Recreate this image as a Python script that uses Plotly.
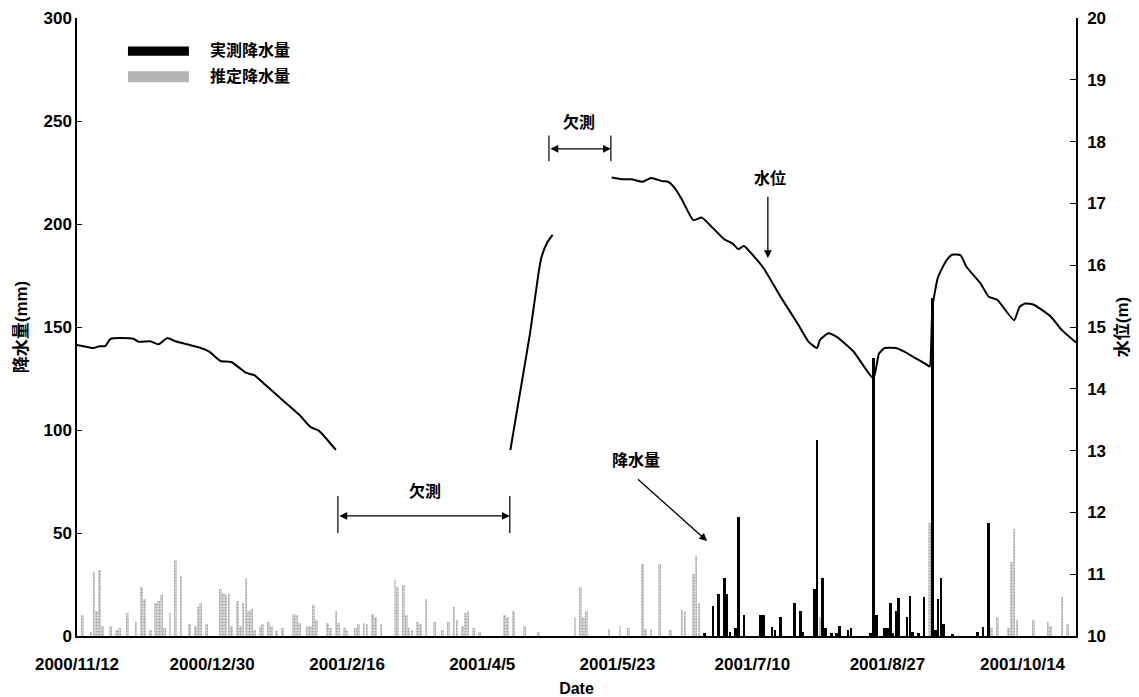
import plotly.graph_objects as go

# ---------------- data ----------------
est_dates = [
    "2000-11-14", "2000-11-17", "2000-11-18", "2000-11-19", "2000-11-20", "2000-11-21",
    "2000-11-24", "2000-11-26", "2000-11-27", "2000-11-30", "2000-12-03", "2000-12-05",
    "2000-12-06", "2000-12-08", "2000-12-10", "2000-12-11", "2000-12-12", "2000-12-13",
    "2000-12-15", "2000-12-17", "2000-12-19", "2000-12-22", "2000-12-24", "2000-12-25",
    "2000-12-26", "2000-12-28", "2001-01-02", "2001-01-03", "2001-01-04", "2001-01-05",
    "2001-01-06", "2001-01-08", "2001-01-09", "2001-01-10", "2001-01-11", "2001-01-12",
    "2001-01-13", "2001-01-14", "2001-01-16", "2001-01-17", "2001-01-19", "2001-01-20",
    "2001-01-22", "2001-01-24", "2001-01-28", "2001-01-29", "2001-01-30", "2001-02-02",
    "2001-02-03", "2001-02-04", "2001-02-05", "2001-02-09", "2001-02-10", "2001-02-12",
    "2001-02-13", "2001-02-15", "2001-02-16", "2001-02-19", "2001-02-20", "2001-02-22",
    "2001-02-23", "2001-02-25", "2001-02-26", "2001-02-28", "2001-03-05", "2001-03-06",
    "2001-03-08", "2001-03-09", "2001-03-10", "2001-03-11", "2001-03-13", "2001-03-14",
    "2001-03-16", "2001-03-19", "2001-03-22", "2001-03-24", "2001-03-26", "2001-03-27",
    "2001-03-29", "2001-03-30", "2001-03-31", "2001-04-02", "2001-04-04", "2001-04-13",
    "2001-04-14", "2001-04-16", "2001-04-20", "2001-04-25", "2001-05-08", "2001-05-10",
    "2001-05-11", "2001-05-12", "2001-05-20", "2001-05-24", "2001-05-27", "2001-06-01",
    "2001-06-02", "2001-06-04", "2001-06-07", "2001-06-11", "2001-06-15", "2001-06-16",
    "2001-06-19", "2001-06-20", "2001-06-21", "2001-08-03", "2001-09-11", "2001-10-03",
    "2001-10-05", "2001-10-09", "2001-10-10", "2001-10-11", "2001-10-12", "2001-10-18",
    "2001-10-23", "2001-10-24", "2001-10-28", "2001-10-30",
]
est_rain = [
    10, 2, 31, 12, 32, 5,
    5, 3, 4, 11, 7, 24,
    18, 3, 16, 17, 20, 4,
    11, 37, 29, 6, 5, 14,
    16, 6, 23, 21, 20, 21,
    5, 17, 5, 16, 28, 12,
    13, 3, 5, 6, 7, 5,
    2.5, 4, 10.5, 10, 6.5, 5,
    5, 15, 8, 6.5, 4, 12,
    6.5, 4, 3, 4, 6, 6.5,
    6, 10.5, 9, 6, 27, 24,
    25, 10, 4, 3, 7, 6,
    18, 7, 3, 7, 14, 8,
    5, 11, 12, 4, 2, 10,
    9, 12, 5, 2, 9, 24,
    9, 12, 3.5, 5, 4, 35,
    3.5, 3.5, 35, 2.7, 12.5, 12,
    30, 39, 16, 9, 55, 4,
    9, 4, 36, 52, 8, 8,
    7, 5, 19, 6,
]

obs_dates = [
    "2001-06-23", "2001-06-26", "2001-06-28", "2001-06-30", "2001-07-01", "2001-07-02",
    "2001-07-04", "2001-07-05", "2001-07-07", "2001-07-13", "2001-07-14", "2001-07-17",
    "2001-07-18", "2001-07-20", "2001-07-25", "2001-07-27", "2001-07-28", "2001-08-01",
    "2001-08-02", "2001-08-04", "2001-08-05", "2001-08-07", "2001-08-09", "2001-08-10",
    "2001-08-13", "2001-08-14", "2001-08-21", "2001-08-22", "2001-08-23", "2001-08-26",
    "2001-08-27", "2001-08-28", "2001-08-29", "2001-08-30", "2001-08-31", "2001-09-03",
    "2001-09-04", "2001-09-05", "2001-09-07", "2001-09-09", "2001-09-12", "2001-09-13",
    "2001-09-14", "2001-09-15", "2001-09-16", "2001-09-19", "2001-09-28", "2001-09-30",
    "2001-10-02",
]
obs_rain = [
    1.3, 14.5, 20.3, 28, 20.3, 2,
    4, 58, 10.3, 10.2, 10.2, 4.5,
    3, 9, 16, 12, 2, 22.7,
    95, 28, 4, 1.3, 1.3, 5,
    3, 4, 1.3, 135, 10, 4,
    4, 16, 1.3, 12, 18.3, 9,
    19.4, 2, 1.3, 19, 164, 3,
    18, 28, 6, 1, 2, 4.3,
    55,
]

level_dates = [
    "2000-11-12", "2000-11-18", "2000-11-20", "2000-11-22", "2000-11-24", "2000-12-02",
    "2000-12-04", "2000-12-08", "2000-12-11", "2000-12-14", "2000-12-17", "2000-12-21",
    "2000-12-26", "2000-12-29", "2001-01-02", "2001-01-06", "2001-01-11", "2001-01-14",
    "2001-01-18", "2001-01-24", "2001-01-30", "2001-02-03", "2001-02-06", "2001-02-12",
    "2001-02-13",
    "2001-04-15", "2001-04-18", "2001-04-22", "2001-04-25", "2001-04-26",
    "2001-04-28", "2001-04-30",
    "2001-05-01",
    "2001-05-21", "2001-05-25", "2001-05-28", "2001-06-01", "2001-06-04", "2001-06-08",
    "2001-06-10", "2001-06-12", "2001-06-15", "2001-06-19", "2001-06-22", "2001-06-26",
    "2001-06-30", "2001-07-03", "2001-07-05", "2001-07-07", "2001-07-10", "2001-07-14",
    "2001-07-20", "2001-07-26", "2001-07-30", "2001-08-02", "2001-08-03", "2001-08-06",
    "2001-08-09", "2001-08-15", "2001-08-22", "2001-08-24", "2001-08-26", "2001-08-30",
    "2001-09-02", "2001-09-05", "2001-09-10", "2001-09-11", "2001-09-12", "2001-09-14",
    "2001-09-17", "2001-09-19", "2001-09-22", "2001-09-24", "2001-09-29", "2001-10-02",
    "2001-10-05", "2001-10-11", "2001-10-13", "2001-10-15", "2001-10-18", "2001-10-24",
    "2001-10-28", "2001-11-02",
]
water_level = [
    14.71, 14.66, 14.69, 14.69, 14.81, 14.81,
    14.76, 14.77, 14.72, 14.82, 14.77, 14.72,
    14.66, 14.60, 14.45, 14.43, 14.26, 14.22,
    14.06, 13.82, 13.58, 13.38, 13.32, 13.01,
    None,
    13.01, 13.82, 14.90, 15.87, 16.12,
    16.36, 16.49,
    None,
    17.42, 17.39, 17.39, 17.35, 17.41, 17.36,
    17.35, 17.27, 17.06, 16.73, 16.77, 16.60,
    16.42, 16.35, 16.26, 16.31, 16.17, 15.95,
    15.49, 15.06, 14.76, 14.66, 14.79, 14.90,
    14.84, 14.60, 14.17, 14.57, 14.66, 14.66,
    14.60, 14.52, 14.39, 14.36, 15.33, 15.81,
    16.08, 16.17, 16.16, 15.98, 15.71, 15.49,
    15.44, 15.11, 15.33, 15.38, 15.36, 15.17,
    14.95, 14.75,
]

tick_dates = ["2000-11-12", "2000-12-30", "2001-02-16", "2001-04-05",
              "2001-05-23", "2001-07-10", "2001-08-27", "2001-10-14"]
tick_labels = ["2000/11/12", "2000/12/30", "2001/2/16", "2001/4/5",
               "2001/5/23", "2001/7/10", "2001/8/27", "2001/10/14"]

series_names = ["実測降水量", "推定降水量", "水位"]

FONT = "Liberation Sans, Arial, Noto Sans CJK JP"
DAY_MS = 86400000

fig = go.Figure()

fig.add_trace(go.Bar(
    x=est_dates, y=est_rain, name=series_names[1], width=DAY_MS * 0.95,
    marker=dict(color="#bdbdbd", line=dict(width=0),
                pattern=dict(shape=".", fgcolor="#6e6e6e", bgcolor="#d9d9d9",
                             size=3, solidity=0.35)),
    showlegend=False, yaxis="y",
))
fig.add_trace(go.Bar(
    x=obs_dates, y=obs_rain, name=series_names[0], width=DAY_MS * 0.95,
    marker=dict(color="black", line=dict(width=0)),
    showlegend=False, yaxis="y",
))
fig.add_trace(go.Scatter(
    x=level_dates, y=water_level, name=series_names[2], mode="lines",
    line=dict(color="black", width=2, shape="spline", smoothing=0.5), connectgaps=False,
    showlegend=False, yaxis="y2",
))

axis_font = dict(family=FONT, size=17, color="black", weight="bold")

fig.update_layout(
    width=1139, height=697,
    margin=dict(l=77, r=63, t=18, b=61),
    paper_bgcolor="white", plot_bgcolor="white",
    barmode="overlay", bargap=0,
    font=dict(family=FONT, color="black"),
    xaxis=dict(
        type="date", range=["2000-11-12", "2001-11-02"],
        tickmode="array", tickvals=tick_dates, ticktext=tick_labels,
        ticks="", showgrid=False, zeroline=False, automargin=False,
        showline=True, linecolor="black", linewidth=1.5,
        tickfont=axis_font, ticklabelstandoff=12,
        title=dict(text="Date", font=dict(family=FONT, size=16, color="black", weight="bold"),
                   standoff=10),
    ),
    yaxis=dict(
        range=[0, 300], tickmode="array", tickvals=[0, 50, 100, 150, 200, 250, 300],
        ticks="inside", ticklen=5, tickcolor="black", automargin=False,
        showgrid=False, zeroline=False,
        showline=True, linecolor="black", linewidth=1.5,
        tickfont=axis_font,
        title=dict(text="降水量(mm)", font=dict(family=FONT, size=17, color="black", weight="bold"),
                   standoff=12),
    ),
    yaxis2=dict(
        range=[10, 20], tickmode="array", tickvals=list(range(10, 21)),
        overlaying="y", side="right", automargin=False,
        ticks="inside", ticklen=6, tickcolor="black",
        showgrid=False, zeroline=False,
        showline=True, linecolor="black", linewidth=1.5,
        tickfont=axis_font, ticklabelstandoff=6,
        title=dict(text="水位(m)", font=dict(family=FONT, size=17, color="black", weight="bold"),
                   standoff=10),
    ),
)

# --- manual legend (long swatches, as in the reference) ---
fig.add_shape(type="rect", xref="paper", yref="paper",
              x0=0.051, x1=0.112, y0=0.939, y1=0.954,
              fillcolor="black", line=dict(width=0))
fig.add_shape(type="rect", xref="paper", yref="paper",
              x0=0.051, x1=0.112, y0=0.896, y1=0.914,
              fillcolor="#b5b5b5", line=dict(width=0))
ann_font = dict(family=FONT, size=16, color="black", weight="bold")
fig.add_annotation(xref="paper", yref="paper", x=0.131, y=0.947, text=series_names[0],
                   showarrow=False, xanchor="left", yanchor="middle", font=ann_font)
fig.add_annotation(xref="paper", yref="paper", x=0.131, y=0.905, text=series_names[1],
                   showarrow=False, xanchor="left", yanchor="middle", font=ann_font)

# --- missing-data markers (欠測) ---
def gap_marker(x0, x1, ytick0, ytick1, yarrow, xtext, ytext):
    for xv in (x0, x1):
        fig.add_shape(type="line", xref="x", yref="y", x0=xv, x1=xv, y0=ytick0, y1=ytick1,
                      line=dict(color="black", width=1.2))
    fig.add_annotation(xref="x", yref="y", x=x1, y=yarrow, ax=x0, ay=yarrow,
                       axref="x", ayref="y", text="", showarrow=True,
                       arrowhead=2, arrowsize=1.2, arrowwidth=1.3, arrowside="end+start",
                       arrowcolor="black")
    fig.add_annotation(xref="x", yref="y", x=xtext, y=ytext, text="欠測",
                       showarrow=False, font=ann_font, yanchor="middle")

gap_marker("2001-02-12 17:00", "2001-04-14 19:00", 50, 68, 58.3, "2001-03-15 14:00", 70.5)
gap_marker("2001-04-28 17:00", "2001-05-20 17:00", 230.5, 243, 236.5, "2001-05-09 12:00", 249.5)

# 水位 label with down arrow
fig.add_annotation(xref="x", yref="y", x="2001-07-16 04:00", y=222.3, text="水位",
                   showarrow=False, font=ann_font, yanchor="middle")
fig.add_annotation(xref="x", yref="y", x="2001-07-15 12:00", y=183.5,
                   ax="2001-07-15 12:00", ay=214, axref="x", ayref="y",
                   text="", showarrow=True, arrowhead=2, arrowsize=1.2, arrowwidth=1.3,
                   arrowcolor="black")

# 降水量 label with arrow
fig.add_annotation(xref="x", yref="y", x="2001-05-29 14:00", y=85.4, text="降水量",
                   showarrow=False, font=ann_font, yanchor="middle")
fig.add_annotation(xref="x", yref="y", x="2001-06-23 22:00", y=46.1,
                   ax="2001-05-29 19:00", ay=76.7, axref="x", ayref="y",
                   text="", showarrow=True, arrowhead=2, arrowsize=1.2, arrowwidth=1.3,
                   arrowcolor="black")

fig.write_html("out.html")
